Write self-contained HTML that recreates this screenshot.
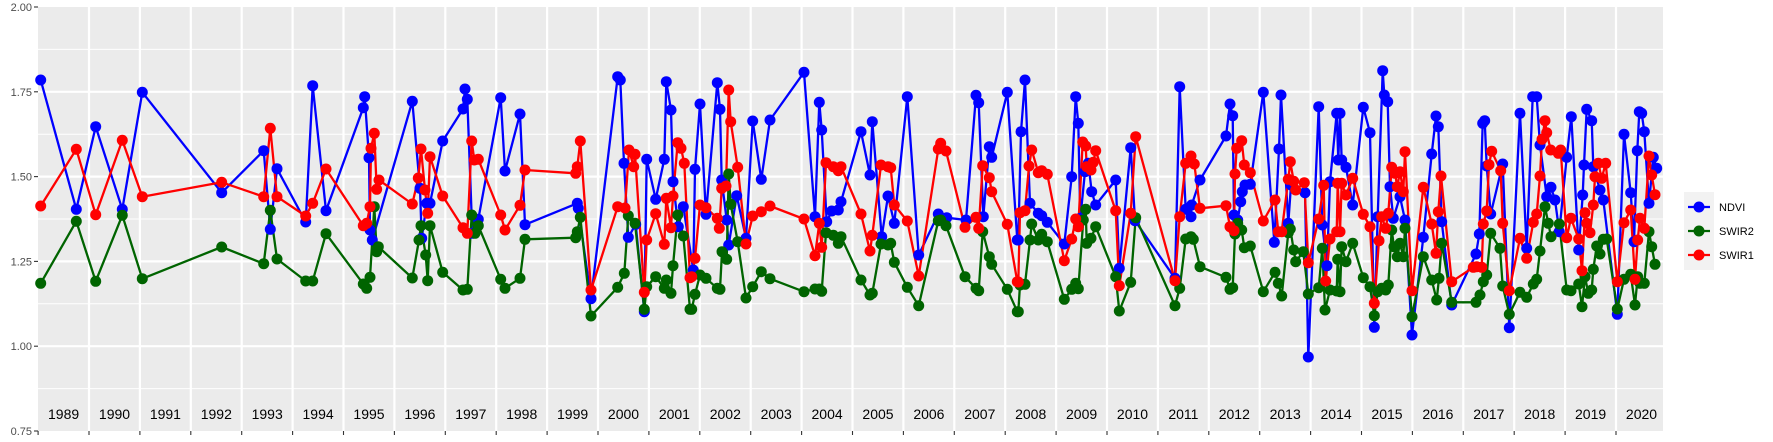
<!DOCTYPE html>
<html><head><meta charset="utf-8">
<style>
html,body{margin:0;padding:0;background:#fff;}
svg{display:block;font-family:"Liberation Sans",sans-serif;}
</style></head>
<body>
<svg id="s" width="1773" height="442" viewBox="0 0 1773 442" xmlns="http://www.w3.org/2000/svg">
<rect x="0" y="0" width="1773" height="442" fill="#fff"/>
<rect x="38" y="7" width="1625" height="424" fill="#ebebeb"/>
<g id="grid"></g>
<g id="data"></g>
<g id="axes" font-size="11" fill="#4d4d4d"></g>
<g font-size="11" fill="#000">
<rect x="1684" y="192" width="30" height="78" fill="#f2f2f2"/>
<line x1="1688" y1="207" x2="1710" y2="207" stroke="#0000ff" stroke-width="2.3"/><circle cx="1699" cy="207" r="5.5" fill="#0000ff"/>
<line x1="1688" y1="231" x2="1710" y2="231" stroke="#006400" stroke-width="2.3"/><circle cx="1699" cy="231" r="5.5" fill="#006400"/>
<line x1="1688" y1="255" x2="1710" y2="255" stroke="#ff0000" stroke-width="2.3"/><circle cx="1699" cy="255" r="5.5" fill="#ff0000"/>
<text x="1719" y="211">NDVI</text>
<text x="1719" y="235">SWIR2</text>
<text x="1719" y="259">SWIR1</text>
</g>
</svg>
<script>
var NS="http://www.w3.org/2000/svg";
function el(p,t,a,txt){var e=document.createElementNS(NS,t);for(var k in a)e.setAttribute(k,a[k]);if(txt)e.textContent=txt;p.appendChild(e);return e;}
var grid=document.getElementById('grid'),axes=document.getElementById('axes'),data=document.getElementById('data');
function Y(v){return 7+(2-v)*339.2;}
[1.875,1.625,1.375,1.125,0.875].forEach(function(v){el(grid,'line',{x1:38,x2:1663,y1:Y(v),y2:Y(v),stroke:'#fff','stroke-width':1});});
[2,1.75,1.5,1.25,1.0,0.75].forEach(function(v){var y=Y(v);
 if(v<2&&v>0.75)el(grid,'line',{x1:38,x2:1663,y1:y,y2:y,stroke:'#fff','stroke-width':2.2});
 el(axes,'line',{x1:34,x2:38,y1:y,y2:y,stroke:'#333','stroke-width':1.1});
 el(axes,'text',{x:32,y:y+4,'text-anchor':'end'},v.toFixed(2));});
for(var k=0;k<32;k++){var x=38.1+50.9*k;
 if(k>0)el(grid,'line',{x1:x,x2:x,y1:7,y2:431,stroke:'#fff','stroke-width':2.2});
 if(k>0)el(axes,'line',{x1:x,x2:x,y1:431,y2:435,stroke:'#333','stroke-width':1.1});
 el(grid,'text',{x:x+25.5,y:419,'text-anchor':'middle','font-size':14,fill:'#000'},String(1989+k));}
el(axes,'line',{x1:38.1,x2:38.1,y1:431,y2:435,stroke:'#333','stroke-width':1.1});
var chunks=[
{o:[38,60],b:[[8,60],[115,448],[173,200],[253,448],[313,97],[551,398],[677,272],[697,508],[717,326],[803,486],[824,77],[864,452],[976,143],[980,110]],
 r:[[8,438],[115,268],[173,464],[253,241],[313,410],[551,367],[677,410],[697,205],[717,410],[803,468],[824,430],[864,327],[976,497]],
 g:[[8,670],[115,484],[173,664],[253,466],[313,656],[551,561],[677,611],[697,451],[717,597],[803,663],[824,663],[864,521],[976,672]]},
{o:[365,60],b:[[12,293],[15,510],[22,540],[142,124],[165,385],[170,535],[185,430],[195,430],[233,243],[294,147],[300,87],[307,118],[322,520],[340,478],[407,113],[420,333],[465,162],[480,494],[637,430],[640,445],[678,716],[758,50],[766,60],[777,310],[790,532],[812,493],[838,755],[845,298],[872,418],[898,298],[904,65],[918,150],[924,365],[940,500],[955,440]],
 r:[[5,490],[15,440],[18,265],[28,220],[35,388],[42,360],[142,432],[160,354],[168,267],[180,390],[188,460],[195,290],[233,408],[294,503],[307,520],[320,243],[328,300],[340,298],[407,465],[420,510],[465,436],[480,330],[632,340],[637,320],[646,243],[678,690],[758,440],[780,444],[792,270],[806,320],[810,283],[838,697],[845,540],[872,461],[898,553],[904,415],[918,503],[924,408],[938,248],[948,265],[958,310],[975,653]],
 g:[[5,685],[15,652],[28,440],[35,575],[40,560],[142,654],[162,540],[168,497],[182,585],[188,662],[195,497],[233,637],[294,690],[307,688],[320,465],[330,520],[340,497],[407,658],[420,685],[465,655],[480,538],[632,533],[637,515],[646,472],[678,768],[758,682],[778,640],[790,467],[810,490],[838,748],[845,680],[872,650],[898,685],[904,660],[918,700],[924,617],[938,465],[955,528],[975,748]]},
{o:[690,50],b:[[10,660],[15,358],[30,162],[48,493],[82,98],[90,178],[95,390],[110,510],[116,585],[140,437],[168,565],[188,213],[214,388],[240,210],[342,67],[375,500],[388,157],[395,240],[410,515],[425,483],[445,480],[453,455],[513,245],[540,375],[547,215],[575,560],[594,438],[613,520],[652,140],[686,615],[745,492],[770,503],[828,510],[858,136],[866,158],[880,500],[898,290],[905,322],[952,127],[982,570]],
 r:[[5,680],[15,625],[30,465],[48,473],[82,505],[88,535],[95,415],[108,408],[116,120],[122,215],[143,352],[168,582],[188,498],[214,485],[240,468],[342,507],[375,617],[388,520],[395,592],[408,338],[430,350],[445,362],[453,350],[513,492],[540,603],[547,556],[573,345],[594,350],[602,353],[613,465],[652,513],[686,678],[745,297],[752,280],[768,303],[825,532],[858,502],[866,535],[878,347],[898,383],[905,425],[952,523],[982,695]],
 g:[[5,778],[15,733],[30,675],[48,685],[82,715],[90,718],[96,605],[110,628],[116,372],[122,463],[143,575],[168,744],[188,710],[214,665],[240,686],[342,725],[375,717],[388,717],[395,724],[408,548],[430,556],[445,580],[453,560],[513,690],[540,735],[547,730],[573,582],[594,585],[602,580],[613,637],[652,712],[686,767],[745,512],[752,510],[768,527],[825,680],[858,715],[866,722],[878,545],[898,620],[905,643],[952,718],[982,785]]},
{o:[1015,50],b:[[10,570],[18,245],[30,90],[45,460],[70,490],[80,497],[97,517],[148,582],[170,380],[182,140],[190,220],[196,505],[210,365],[220,340],[230,425],[242,465],[302,390],[313,655],[347,293],[360,512],[480,685],[494,110],[512,478],[528,500],[530,465],[555,390],[633,258],[645,162],[653,197],[657,495],[668,510],[677,455],[682,425],[690,405],[706,403],[745,127],[778,577],[792,297],[798,135],[820,520],[828,405],[870,428],[880,921],[911,170],[922,525],[936,647],[945,395],[965,190],[970,330]],
 r:[[10,696],[15,488],[30,482],[42,348],[50,300],[70,368],[80,362],[97,373],[148,632],[170,567],[182,507],[190,530],[203,276],[212,288],[215,350],[228,360],[235,337],[242,302],[302,482],[313,707],[347,490],[362,260],[480,692],[494,500],[512,340],[528,318],[538,342],[555,475],[633,467],[645,530],[657,542],[660,372],[665,295],[680,272],[688,345],[706,368],[745,513],[780,450],[790,545],[800,545],[820,388],[826,335],[836,394],[842,420],[868,398],[880,638],[911,507],[926,406],[932,693],[945,567],[965,545],[968,400]],
 g:[[10,785],[15,705],[30,703],[45,570],[50,522],[70,570],[80,553],[97,575],[148,748],[170,718],[182,700],[190,716],[205,510],[212,478],[215,580],[228,565],[242,530],[302,680],[313,783],[347,697],[362,503],[480,767],[494,715],[512,567],[528,560],[535,568],[555,650],[633,682],[645,718],[653,713],[660,552],[668,520],[680,540],[688,593],[706,588],[745,725],[780,667],[790,700],[800,738],[820,548],[826,537],[836,600],[842,635],[865,605],[880,732],[911,713],[922,595],[930,780],[945,720],[965,723],[968,628]]},
{o:[1340,50],b:[[0,190],[5,330],[18,352],[38,465],[70,172],[90,248],[103,832],[113,500],[128,62],[133,135],[143,155],[150,410],[160,505],[180,440],[195,510],[216,855],[250,562],[275,312],[288,198],[295,230],[305,515],[335,765],[408,612],[418,552],[428,220],[434,212],[440,348],[452,492],[488,342],[508,833],[540,190],[560,595],[578,140],[590,140],[600,285],[620,440],[633,412],[645,450],[658,545],[680,322],[694,200],[716,600],[728,435],[732,345],[740,178],[755,212],[760,350],[780,420],[790,450],[832,793],[852,253],[872,428],[882,575],[892,302],[898,185],[905,190],[913,245],[927,460],[940,322],[950,355]],
 r:[[0,545],[5,400],[18,435],[38,385],[70,493],[90,530],[103,760],[117,572],[125,500],[137,535],[145,490],[155,352],[165,370],[172,410],[180,365],[190,425],[195,305],[216,722],[250,412],[275,522],[288,610],[295,485],[303,378],[335,695],[400,652],[410,650],[425,652],[430,522],[440,483],[447,344],[455,304],[482,362],[488,520],[508,722],[540,565],[560,625],[580,517],[590,492],[600,378],[606,268],[615,212],[620,248],[632,300],[655,310],[662,300],[680,563],[693,505],[716,567],[726,662],[735,488],[740,520],[750,548],[760,465],[765,380],[775,340],[785,385],[797,340],[832,695],[852,518],[872,480],[885,688],[893,570],[900,505],[913,535],[927,318],[935,375],[945,434]],
 g:[[0,725],[5,590],[18,635],[38,580],[70,683],[90,710],[103,797],[113,725],[125,715],[137,720],[145,705],[155,540],[162,590],[172,620],[180,580],[190,620],[195,535],[216,800],[250,620],[275,690],[290,750],[297,685],[305,580],[335,757],[408,757],[420,735],[430,695],[440,675],[452,550],[480,595],[488,708],[508,793],[540,727],[560,742],[580,702],[590,688],[600,603],[615,470],[625,520],[633,560],[658,522],[680,720],[693,722],[716,702],[726,770],[735,680],[745,730],[755,720],[760,658],[770,588],[780,612],[790,568],[800,567],[832,777],[852,688],[872,673],[885,765],[893,680],[900,700],[913,700],[927,545],[935,590],[945,643]]}
];
var S={b:[],g:[],r:[]};
chunks.forEach(function(c){['b','g','r'].forEach(function(k){c[k].forEach(function(p){S[k].push([c.o[0]+p[0]/3,c.o[1]+p[1]/3]);});});});
var col={b:'#0000ff',g:'#006400',r:'#ff0000'};
['b','g','r'].forEach(function(k){S[k].sort(function(a,b){return a[0]-b[0];});
 el(data,'polyline',{points:S[k].map(function(p){return p[0].toFixed(1)+','+p[1].toFixed(1);}).join(' '),fill:'none',stroke:col[k],'stroke-width':2.3,'stroke-linejoin':'round'});});
['b','g','r'].forEach(function(k){S[k].forEach(function(p){el(data,'circle',{cx:p[0].toFixed(1),cy:p[1].toFixed(1),r:5.5,fill:col[k]});});});
</script>
</body></html>
